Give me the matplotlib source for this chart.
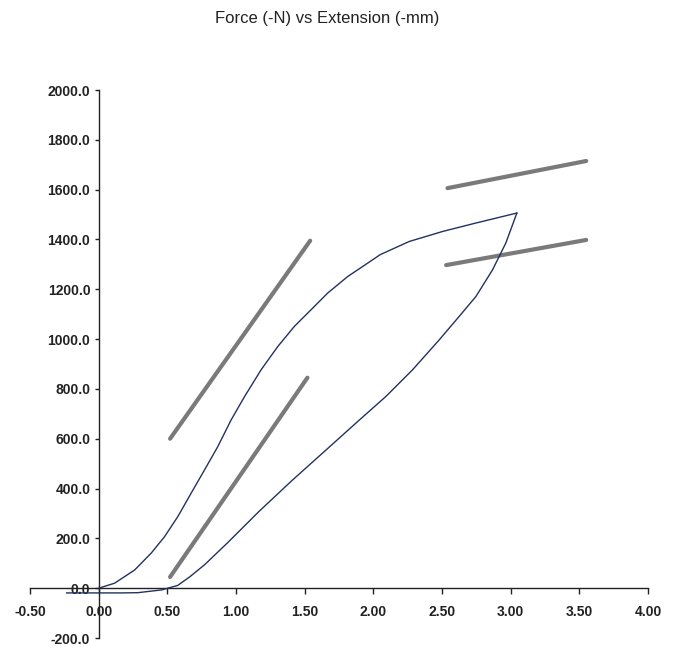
"""
Force (-N) vs Extension (-mm): loading / unloading loop with stiffness guide lines.
Produces: out.png
"""
import numpy as np
import matplotlib
matplotlib.use('Agg')
import matplotlib.pyplot as plt

# loading branch (extension mm, force N)
load_x = [0.0, 0.116, 0.262, 0.383, 0.48, 0.577, 0.674, 0.771, 0.868, 0.965,
          1.062, 1.183, 1.304, 1.425, 1.547, 1.668, 1.813, 1.959, 2.05, 2.262,
          2.504, 2.747, 3.045]
load_y = [0, 20, 73, 141, 207, 288, 382, 475, 569, 676,
          769, 877, 970, 1051, 1118, 1185, 1251, 1305, 1339, 1392,
          1432, 1466, 1506]

# unloading branch
unload_x = [3.045, 2.965, 2.868, 2.747, 2.625, 2.48, 2.286, 2.092, 1.898, 1.656,
            1.413, 1.171, 0.938, 0.771, 0.662, 0.575, 0.458, 0.286, 0.175,
            -0.065, -0.233]
unload_y = [1506, 1386, 1278, 1171, 1091, 997, 877, 770, 675, 555,
            435, 310, 182, 94, 45, 11, -7, -18, -19,
            -19, -19]

# grey guide lines: (x0, x1), (y0, y1)
guide_x = [(0.52, 1.54), (0.52, 1.52), (2.54, 3.55), (2.53, 3.55)]
guide_y = [(600, 1395), (45, 845), (1606, 1715), (1297, 1398)]

x_ticks = [-0.5, 0.0, 0.5, 1.0, 1.5, 2.0, 2.5, 3.0, 3.5, 4.0]
y_ticks = [-200, 0, 200, 400, 600, 800, 1000, 1200, 1400, 1600, 1800, 2000]

plt.rcParams['font.family'] = ['Liberation Sans', 'DejaVu Sans']

fig = plt.figure(figsize=(6.78, 6.47), dpi=100)
ax = fig.add_axes([30 / 678, 9 / 647, 618 / 678, 548 / 647])

for gx, gy in zip(guide_x, guide_y):
    ax.plot(gx, gy, color='#7a7a7a', linewidth=3.0, solid_capstyle='round', zorder=2)

ax.plot(load_x, load_y, color='#23325e', linewidth=1.0, zorder=3)
ax.plot(unload_x, unload_y, color='#23325e', linewidth=1.0, zorder=3)

ax.set_xlim(-0.5, 4.0)
ax.set_ylim(-200, 2000)

ax.spines['left'].set_position(('data', 0))
ax.spines['bottom'].set_position(('data', 0))
ax.spines['top'].set_visible(False)
ax.spines['right'].set_visible(False)
for s in ('left', 'bottom'):
    ax.spines[s].set_linewidth(1.0)
    ax.spines[s].set_color('#222222')

ax.set_xticks(x_ticks)
ax.set_xticklabels([f'{v:.2f}' for v in x_ticks])
ax.set_yticks(y_ticks)
ax.set_yticklabels([f'{v:.1f}' for v in y_ticks])
ax.tick_params(axis='x', direction='out', length=4, width=1, pad=8,
               labelsize=10, colors='#222222')
ax.tick_params(axis='y', direction='out', length=3, width=1, pad=3,
               labelsize=10, colors='#222222')
for lab in ax.get_xticklabels() + ax.get_yticklabels():
    lab.set_fontweight('bold')

ax.patch.set_alpha(0)
fig.text(0.482, 1 - 18 / 647, 'Force (-N) vs Extension (-mm)', ha='center', va='center',
         fontsize=12, color='#222222')

plt.savefig('out.png', dpi=100, facecolor='white')
